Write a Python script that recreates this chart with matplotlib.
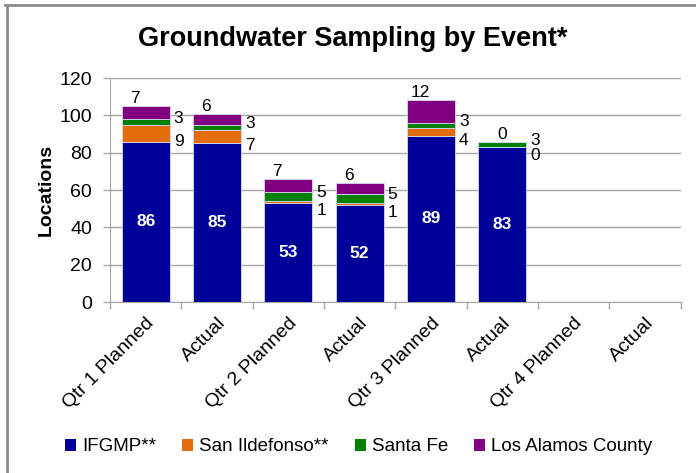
import numpy as np
import matplotlib
matplotlib.use("Agg")
import matplotlib.pyplot as plt
from matplotlib.patches import Patch
from matplotlib.lines import Line2D

plt.rcParams['font.family'] = ['Liberation Sans', 'DejaVu Sans']

# data
categories = ["Qtr 1 Planned", "Actual", "Qtr 2 Planned", "Actual",
              "Qtr 3 Planned", "Actual", "Qtr 4 Planned", "Actual"]
series = ["IFGMP**", "San Ildefonso**", "Santa Fe", "Los Alamos County"]
ifgmp = [86, 85, 53, 52, 89, 83]
san_ildefonso = [9, 7, 1, 1, 4, 0]
santa_fe = [3, 3, 5, 5, 3, 3]
los_alamos = [7, 6, 7, 6, 12, 0]
colors = ["#000099", "#E46C0A", "#008000", "#800080"]

fig = plt.figure(figsize=(6.96, 4.73), dpi=100)
ax = fig.add_axes([0.158, 0.3615, 0.820, 0.4735])

x = np.arange(len(ifgmp))
w = 0.67
bottom = np.zeros(len(ifgmp))
for vals, c in zip([ifgmp, san_ildefonso, santa_fe, los_alamos], colors):
    ax.bar(x, vals, w, bottom=bottom, color=c, edgecolor="#d8d8f0", linewidth=0.6, zorder=3)
    bottom = bottom + np.array(vals)

# labels
fs = 12.5
for i in x:
    ax.text(i, ifgmp[i] / 2, str(ifgmp[i]), color="white", fontweight="bold",
            fontsize=fs, ha="center", va="center", zorder=4)
    b = ifgmp[i]
    ax.annotate(str(san_ildefonso[i]), (i + w / 2, b + san_ildefonso[i] / 2 - 4.5),
                xytext=(3, 0), textcoords="offset points", fontsize=fs, va="center", ha="left")
    b += san_ildefonso[i]
    ax.annotate(str(santa_fe[i]), (i + w / 2, b + santa_fe[i] / 2 + 2),
                xytext=(3, 0), textcoords="offset points", fontsize=fs, va="center", ha="left")
    b += santa_fe[i] + los_alamos[i]
    dx = -8 if los_alamos[i] > 0 else 0
    ax.annotate(str(los_alamos[i]), (i, b), xytext=(dx, 0), textcoords="offset points",
                fontsize=fs, va="bottom", ha="center")

ax.set_xlim(-0.5, len(categories) - 0.5)
ax.set_ylim(0, 120)
ax.set_yticks(range(0, 121, 20))
ax.grid(axis="y", color="#a6a6a6", linewidth=1, zorder=0)
ax.set_xticks(np.arange(len(categories)))
ax.set_xticklabels(categories, rotation=45, ha="right", rotation_mode="anchor", fontsize=14)
ax.set_xticks(np.arange(len(categories) + 1) - 0.5, minor=True)
ax.tick_params(axis="x", which="major", length=0, pad=9)
ax.tick_params(axis="x", which="minor", length=5, color="#a6a6a6", width=1)
ax.tick_params(axis="y", length=5, color="#a6a6a6", width=1, labelsize=14, pad=8)
for s in ["top", "right"]:
    ax.spines[s].set_visible(False)
for s in ["left", "bottom"]:
    ax.spines[s].set_color("#a6a6a6")
ax.set_ylabel("Locations", fontsize=14, fontweight="bold", labelpad=3)

fig.text(0.507, 0.918, "Groundwater Sampling by Event*", fontsize=19.5, fontweight="bold",
         ha="center", va="center")

handles = [Patch(facecolor=c, edgecolor="none") for c in colors]
fig.legend(handles, series, loc="center", bbox_to_anchor=(0.515, 0.055), ncol=4,
           frameon=False, fontsize=13.5, handlelength=0.6, handleheight=0.6,
           handletextpad=0.3, columnspacing=1.4)

# outer frame (top and left only, as cropped)
fig.add_artist(Line2D([0.007, 1.0], [0.990, 0.990], color="#8c8c8c", linewidth=2, transform=fig.transFigure))
fig.add_artist(Line2D([0.010, 0.010], [0.0, 0.990], color="#8c8c8c", linewidth=2, transform=fig.transFigure))

fig.savefig("out.png", dpi=100)
